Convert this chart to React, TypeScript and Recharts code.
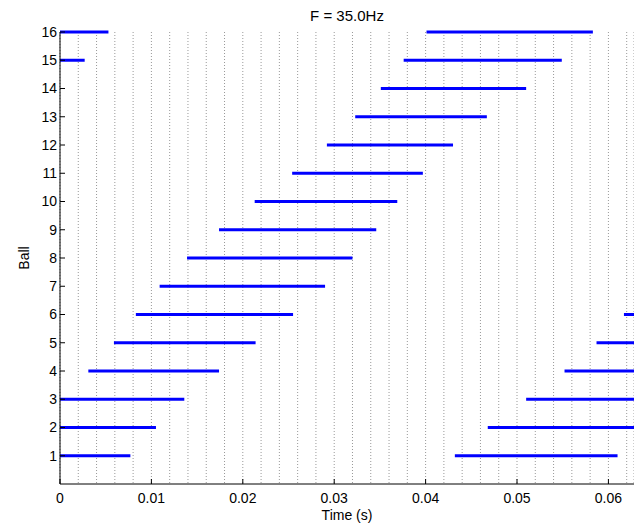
import { CartesianGrid, Line, LineChart, XAxis, YAxis } from "recharts"

// one entry per blue segment: ball number, start time, end time (s)
const segBall = [16, 15, 14, 13, 12, 11, 10, 9, 8, 7, 6, 5, 4, 3, 2, 1, 16, 15, 6, 5, 4, 3, 2, 1]
const segStart = [0, 0, 0.0351, 0.0323, 0.0292, 0.0254, 0.0213, 0.0174, 0.0139, 0.0109, 0.0083, 0.0059, 0.0031, 0, 0, 0, 0.0401, 0.0376, 0.0617, 0.0587, 0.0552, 0.051, 0.0468, 0.0432]
const segEnd = [0.0053, 0.0027, 0.051, 0.0467, 0.043, 0.0397, 0.0369, 0.0346, 0.032, 0.029, 0.0255, 0.0214, 0.0174, 0.0136, 0.0105, 0.0077, 0.0583, 0.0549, 0.075, 0.072, 0.0695, 0.0665, 0.064, 0.061]

const xTicks = [0, 0.01, 0.02, 0.03, 0.04, 0.05, 0.06]
const gridTicks = [0.002, 0.004, 0.006, 0.008, 0.01, 0.012, 0.014, 0.016, 0.018, 0.02, 0.022, 0.024, 0.026, 0.028, 0.03, 0.032, 0.034, 0.036, 0.038, 0.04, 0.042, 0.044, 0.046, 0.048, 0.05, 0.052, 0.054, 0.056, 0.058, 0.06, 0.062]
const yTicks = [1, 2, 3, 4, 5, 6, 7, 8, 9, 10, 11, 12, 13, 14, 15, 16]

const font = "'Liberation Sans', Arial, Helvetica, sans-serif"

export default function App() {
  const segments = segBall.map((b, i) => [
    { x: segStart[i], y: b },
    { x: segEnd[i], y: b },
  ])

  return (
    <div style={{ position: "absolute", left: 0, top: 0, width: 634, height: 525, fontFamily: font, background: "#fff" }}>
      <div style={{ position: "absolute", left: 247, top: 8, width: 200, textAlign: "center", fontSize: 15, lineHeight: "15px", color: "#000" }}>
        F = 35.0Hz
      </div>
      <div style={{ position: "absolute", left: 24, top: 258, transform: "translate(-50%, -50%) rotate(-90deg)", fontSize: 14, lineHeight: "14px", color: "#000" }}>
        Ball
      </div>
      <LineChart width={634} height={525} margin={{ top: 32, right: 0, bottom: 0, left: 0 }}>
        <CartesianGrid xAxisId="grid" horizontal={false} stroke="#999" strokeDasharray="1 2" />
        <XAxis
          xAxisId="grid"
          type="number"
          dataKey="x"
          domain={[0, 0.0628]}
          ticks={gridTicks}
          interval={0}
          allowDataOverflow
          hide
        />
        <XAxis
          type="number"
          dataKey="x"
          domain={[0, 0.0628]}
          ticks={xTicks}
          interval={0}
          allowDataOverflow
          height={41}
          tickSize={-5}
          tickMargin={14}
          axisLine={{ stroke: "#000" }}
          tickLine={{ stroke: "#000" }}
          tick={{ fontSize: 14, fill: "#000", fontFamily: font }}
          label={{ value: "Time (s)", position: "insideBottom", offset: 5, fontSize: 14, fill: "#000", fontFamily: font }}
        />
        <YAxis
          type="number"
          domain={[0, 16]}
          ticks={yTicks}
          width={60}
          tickSize={-5}
          tickMargin={8}
          axisLine={{ stroke: "#000" }}
          tickLine={{ stroke: "#000" }}
          tick={{ fontSize: 14, fill: "#000", fontFamily: font }}
          interval={0}
        />
        {segments.map((d, i) => (
          <Line
            key={i}
            data={d}
            dataKey="y"
            stroke="#0000ff"
            strokeWidth={3}
            dot={false}
            activeDot={false}
            isAnimationActive={false}
          />
        ))}
      </LineChart>
    </div>
  )
}
